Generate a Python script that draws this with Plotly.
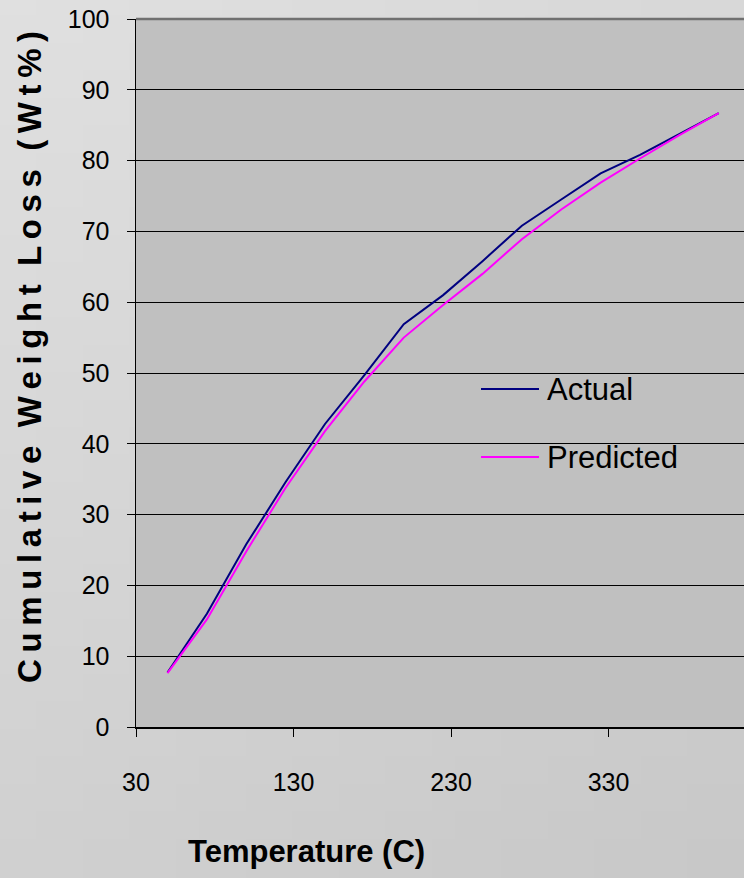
import base64
import struct
import zlib

import plotly.graph_objects as go

# ---------------- data ----------------
temperature = [50, 75, 100, 125, 150, 175, 200, 225, 250, 275, 300, 325, 350, 375, 400]
actual = [7.7, 16.0, 25.8, 34.6, 42.8, 49.7, 56.9, 61.0, 65.8, 70.8, 74.5, 78.2, 80.8, 83.7, 86.7]
predicted = [7.6, 15.2, 24.8, 33.8, 41.8, 48.8, 55.0, 59.6, 64.0, 68.9, 73.1, 76.9, 80.3, 83.6, 86.7]
series_names = ["Actual", "Predicted"]
x_tick_vals = [30, 130, 230, 330]
y_tick_vals = [0, 10, 20, 30, 40, 50, 60, 70, 80, 90, 100]

FONT = "Liberation Sans, Arial, sans-serif"


# ---------------- background gradient (small PNG, stretched) ----------------
def gradient_png(w=32, h=32):
    rows = b""
    for j in range(h):
        row = b"\x00"
        for i in range(w):
            t = 0.35 * i / (w - 1) + 0.65 * j / (h - 1)
            v = int(round(0xe0 + (0xc8 - 0xe0) * t))
            row += bytes([v, v, v])
        rows += row

    def chunk(tag, data):
        c = struct.pack(">I", len(data)) + tag + data
        return c + struct.pack(">I", zlib.crc32(tag + data) & 0xFFFFFFFF)

    png = b"\x89PNG\r\n\x1a\n"
    png += chunk(b"IHDR", struct.pack(">IIBBBBB", w, h, 8, 2, 0, 0, 0))
    png += chunk(b"IDAT", zlib.compress(rows))
    png += chunk(b"IEND", b"")
    return "data:image/png;base64," + base64.b64encode(png).decode()


fig = go.Figure()
fig.add_trace(go.Scatter(x=temperature, y=actual, mode="lines", name=series_names[0],
                         line=dict(color="#000080", width=2)))
fig.add_trace(go.Scatter(x=temperature, y=predicted, mode="lines", name=series_names[1],
                         line=dict(color="#ff00ff", width=2)))

W, H = 744, 878
L, R, T, B = 136, 0, 19, 151
pw, ph = W - L - R, H - T - B


def px_x(p):
    return (p - L) / pw


def px_y(q):
    return (H - B - q) / ph


fig.update_layout(
    width=W, height=H,
    margin=dict(l=L, r=R, t=T, b=B, pad=0),
    paper_bgcolor="#d4d4d4",
    plot_bgcolor="#c0c0c0",
    showlegend=False,
    hovermode=False,
    xaxis=dict(
        range=[30, 30 + pw / 1.575],
        tickvals=x_tick_vals,
        ticks="outside", ticklen=8, tickcolor="black", tickwidth=1,
        showgrid=False, zeroline=False,
        showline=True, linecolor="black", linewidth=1.5,
        tickfont=dict(family=FONT, size=25, color="black"),
        ticklabelstandoff=24,
    ),
    yaxis=dict(
        range=[0, 100],
        tickvals=y_tick_vals,
        ticks="outside", ticklen=8, tickcolor="black", tickwidth=1,
        showgrid=True, gridcolor="black", gridwidth=1,
        zeroline=False,
        showline=True, linecolor="black", linewidth=1.5,
        tickfont=dict(family=FONT, size=25, color="black"),
        ticklabelstandoff=12,
    ),
)

# background gradient image over the whole page, then plot-area fill
fig.add_layout_image(dict(
    source=gradient_png(), xref="paper", yref="paper",
    x=px_x(0), y=px_y(0), sizex=px_x(W) - px_x(0), sizey=px_y(0) - px_y(H),
    xanchor="left", yanchor="top", sizing="stretch", layer="below", opacity=1,
))
fig.add_shape(type="rect", xref="paper", yref="paper", x0=0, x1=1, y0=0, y1=1,
              fillcolor="#c0c0c0", line=dict(width=0), layer="below")
# top border of the plot area
fig.add_shape(type="line", xref="paper", yref="paper", x0=0, x1=1, y0=1, y1=1,
              line=dict(color="#707070", width=2.5), layer="above")

# legend (drawn manually to mimic long sample lines)
legend_rows = [(series_names[0], "#000080", 389), (series_names[1], "#ff00ff", 457)]
for name, color, ypix in legend_rows:
    fig.add_shape(type="line", xref="paper", yref="paper",
                  x0=px_x(481), x1=px_x(539), y0=px_y(ypix), y1=px_y(ypix),
                  line=dict(color=color, width=2))
    fig.add_annotation(text=name, xref="paper", yref="paper",
                       x=px_x(545), y=px_y(ypix), xanchor="left", yanchor="middle",
                       showarrow=False, font=dict(family=FONT, size=31, color="black"))

# axis titles
fig.add_annotation(text="<b>Temperature (C)</b>", xref="paper", yref="paper",
                   x=px_x(306), y=px_y(852), xanchor="center", yanchor="middle",
                   showarrow=False, font=dict(family=FONT, size=31, color="black"))

ts = "\u2009"
ws = "\u00a0\u00a0"


def spaced(word):
    return ts.join(list(word))


y_title = ws.join(spaced(w) for w in ["Cumulative", "Weight", "Loss", "(Wt%)"])
fig.add_annotation(text="<b>" + y_title + "</b>",
                   xref="paper", yref="paper",
                   x=px_x(29), y=px_y(357), xanchor="center", yanchor="middle",
                   textangle=-90, showarrow=False,
                   font=dict(family=FONT, size=33, color="black"))

fig.write_html("out.html",
               config={"displayModeBar": False, "staticPlot": True},
               post_script="document.body.style.margin='0';document.body.style.overflow='hidden';")
